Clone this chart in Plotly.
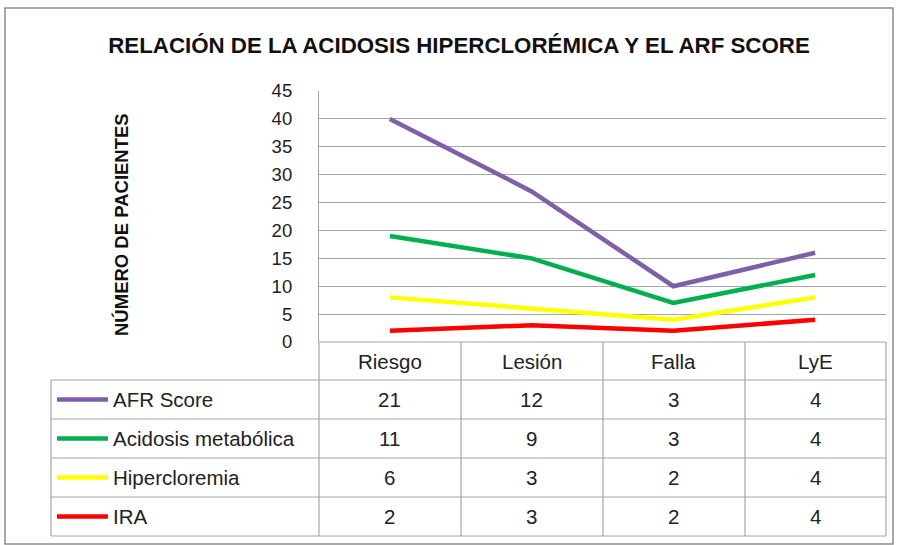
import plotly.graph_objects as go

# data
categories = ["Riesgo", "Lesión", "Falla", "LyE"]
series_names = ["AFR Score", "Acidosis metabólica", "Hipercloremia", "IRA"]
afr_score = [21, 12, 3, 4]
acidosis = [11, 9, 3, 4]
hipercloremia = [6, 3, 2, 4]
ira = [2, 3, 2, 4]
y_ticks = [0, 5, 10, 15, 20, 25, 30, 35, 40, 45]

colors = {"AFR Score": "#7F60A8", "Acidosis metabólica": "#00B050",
          "Hipercloremia": "#FFFF00", "IRA": "#FF0000"}
values = {"AFR Score": afr_score, "Acidosis metabólica": acidosis,
          "Hipercloremia": hipercloremia, "IRA": ira}

W, H = 900, 545
FONT = "Liberation Sans Narrow, Liberation Sans, Arial"
GRID = "#A6A6A6"
TXT = "#222"


def px(x):
    return x / W


def py(y):
    return 1 - y / H


fig = go.Figure()

# stacked lines: bottom series first
for name in reversed(series_names):
    fig.add_trace(go.Scatter(
        x=categories, y=values[name], name=name, mode="lines",
        stackgroup="one", fill="none",
        line=dict(color=colors[name], width=4.5),
    ))

fig.update_layout(
    width=W, height=H,
    margin=dict(l=0, r=0, t=0, b=0, pad=0),
    paper_bgcolor="white", plot_bgcolor="white",
    showlegend=False,
    font=dict(family=FONT, color=TXT),
    title=dict(text="<b>RELACIÓN DE LA ACIDOSIS HIPERCLORÉMICA Y EL ARF SCORE</b>",
               x=px(459), y=py(45), xanchor="center", yanchor="middle",
               automargin=False,
               font=dict(size=22.3, family=FONT, color="#111")),
    xaxis=dict(domain=[px(319), px(886)], range=[-0.5, 3.5], automargin=False,
               showticklabels=False, showgrid=False,
               zeroline=False, showline=False, ticks=""),
    yaxis=dict(domain=[py(342), py(91)], range=[0, 45], tickvals=y_ticks,
               automargin=False,
               showgrid=True, gridcolor=GRID, gridwidth=1.2, zeroline=False,
               showline=True, linecolor=GRID, linewidth=1.2,
               ticks="", ticklabelstandoff=22,
               tickfont=dict(size=18.5, family=FONT, color=TXT)),
)

shapes = []
# outer chart border
shapes.append(dict(type="rect", xref="paper", yref="paper",
                   x0=px(5), x1=px(893), y0=py(544), y1=py(8),
                   line=dict(color="#8C8C8C", width=1.5)))

# data table grid
row_y = [342, 380, 419, 458, 497, 536]
col_x = [319, 461, 603, 745, 886]
shapes.append(dict(type="line", xref="paper", yref="paper",
                   x0=px(319), x1=px(886), y0=py(342), y1=py(342),
                   line=dict(color=GRID, width=1.2)))
for y in row_y[1:]:
    shapes.append(dict(type="line", xref="paper", yref="paper",
                       x0=px(51), x1=px(886), y0=py(y), y1=py(y),
                       line=dict(color=GRID, width=1.2)))
for x in col_x:
    shapes.append(dict(type="line", xref="paper", yref="paper",
                       x0=px(x), x1=px(x), y0=py(342), y1=py(536),
                       line=dict(color=GRID, width=1.2)))
shapes.append(dict(type="line", xref="paper", yref="paper",
                   x0=px(51), x1=px(51), y0=py(380), y1=py(536),
                   line=dict(color=GRID, width=1.2)))

annotations = []
# y axis title
annotations.append(dict(x=px(122), xref="paper", y=py(225), yref="paper",
                        text="<b>NÚMERO DE PACIENTES</b>", textangle=-90,
                        showarrow=False, xanchor="center", yanchor="middle",
                        font=dict(size=18.5, family=FONT, color="#111")))
# header row with categories
for cat in categories:
    annotations.append(dict(x=cat, xref="x", y=py(361), yref="paper",
                            text=cat, showarrow=False,
                            xanchor="center", yanchor="middle",
                            font=dict(size=20.5, family=FONT, color=TXT)))
# series rows
for i, name in enumerate(series_names):
    yc = (row_y[i + 1] + row_y[i + 2]) / 2
    shapes.append(dict(type="line", xref="paper", yref="paper",
                       x0=px(57), x1=px(108), y0=py(yc), y1=py(yc),
                       line=dict(color=colors[name], width=4.5)))
    annotations.append(dict(x=px(111), xref="paper", y=py(yc), yref="paper",
                            text=name, showarrow=False,
                            xanchor="left", yanchor="middle",
                            font=dict(size=20.5, family=FONT, color=TXT)))
    for cat, v in zip(categories, values[name]):
        annotations.append(dict(x=cat, xref="x", y=py(yc), yref="paper",
                                text=str(v), showarrow=False,
                                xanchor="center", yanchor="middle",
                                font=dict(size=20.5, family=FONT, color=TXT)))

fig.update_layout(shapes=shapes, annotations=annotations)

fig.write_html("out.html", config={"displayModeBar": False},
               post_script="document.body.style.margin='0px';")
